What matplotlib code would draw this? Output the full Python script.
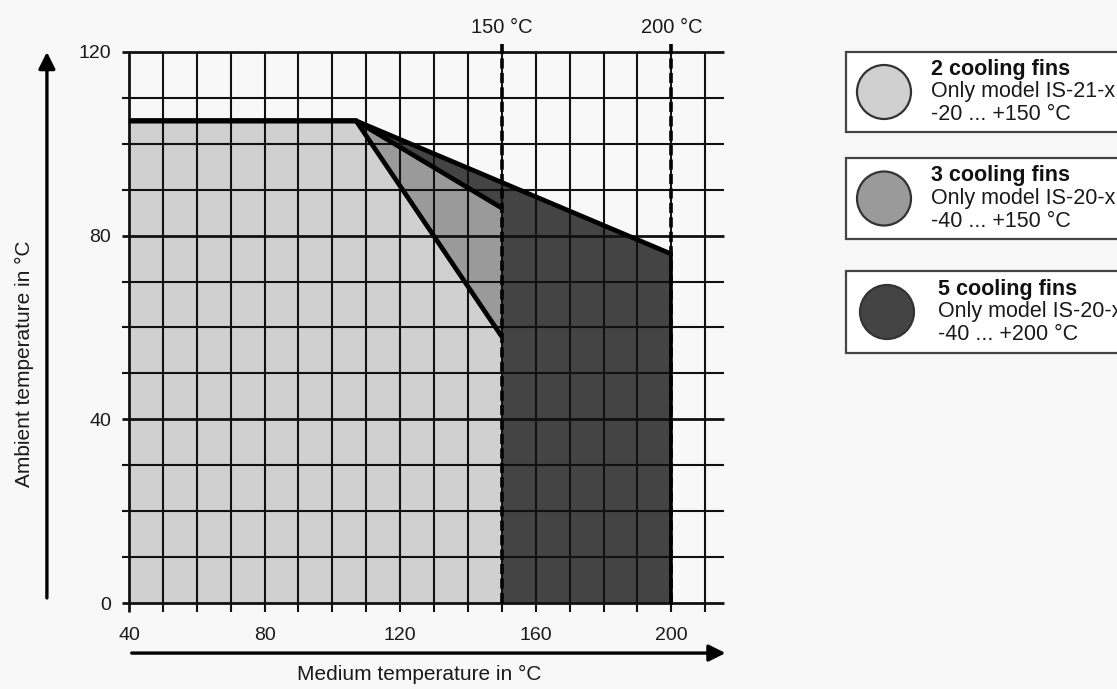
import numpy as np
import matplotlib.pyplot as plt
from matplotlib.patches import Rectangle, Circle

plt.rcParams['font.family'] = ['Liberation Sans', 'DejaVu Sans']

# derating curves: medium temperature (x) vs max ambient temperature (y)
fins2_x = [40, 107, 150]
fins2_y = [105, 105, 58]
fins3_x = [40, 107, 150]
fins3_y = [105, 105, 86]
fins5_x = [40, 107, 200]
fins5_y = [105, 105, 76]

limit_lines = [150, 200]
limit_labels = ["150 °C", "200 °C"]

x_ticks = [40, 80, 120, 160, 200]
y_ticks = [0, 40, 80, 120]
x_grid = np.arange(40, 211, 10)
y_grid = np.arange(0, 121, 10)

legend_titles = ["2 cooling fins", "3 cooling fins", "5 cooling fins"]
legend_models = ["Only model IS-21-x", "Only model IS-20-x", "Only model IS-20-x"]
legend_ranges = ["-20 ... +150 °C", "-40 ... +150 °C", "-40 ... +200 °C"]

c_light = '#d0d0d0'
c_mid = '#9a9a9a'
c_dark = '#444444'
bg = '#f8f8f8'

fig = plt.figure(figsize=(11.17, 6.89), dpi=100, facecolor=bg)
ax = fig.add_axes([0.1033, 0.1048, 0.5463, 0.8531])
ax.set_facecolor(bg)
ax.set_xlim(36, 216)
ax.set_ylim(-3, 125)
for s in ax.spines.values():
    s.set_visible(False)

# filled regions, darkest first
ax.fill_between(fins5_x, fins5_y, 0, color=c_dark, lw=0, zorder=1)
ax.fill_between(fins3_x, fins3_y, 0, color=c_mid, lw=0, zorder=1.1)
ax.fill_between(fins2_x, fins2_y, 0, color=c_light, lw=0, zorder=1.2)

# grid
for gx in x_grid:
    lw = 2.0 if gx == 40 else 1.5
    ax.plot([gx, gx], [-2, 120], color='#111111', lw=lw, zorder=2,
            solid_capstyle='butt', clip_on=False)
for gy in y_grid:
    lw = 2.0 if gy in (0, 40, 80, 120) else 1.5
    ax.plot([38, 215.5], [gy, gy], color='#111111', lw=lw, zorder=2,
            solid_capstyle='butt', clip_on=False)

# curve outlines
for xs, ys in [(fins5_x, fins5_y), (fins3_x, fins3_y), (fins2_x, fins2_y)]:
    ax.plot(xs, ys, color='black', lw=3.4, zorder=4, solid_joinstyle='miter',
            solid_capstyle='butt')
ax.plot([fins5_x[-1], fins5_x[-1]], [0, fins5_y[-1]], color='black', lw=2.6, zorder=3)

# limit lines
for lx, lab in zip(limit_lines, limit_labels):
    ax.plot([lx, lx], [0, 121.8], color='black', lw=2.6, ls=(0, (2.8, 1.2)),
            zorder=5, clip_on=False)
    ax.text(lx, 125.4, lab, ha='center', va='center', fontsize=14.5,
            color='#1a1a1a', clip_on=False)

ax.set_xticks(x_ticks)
ax.set_yticks(y_ticks)
ax.tick_params(length=0, labelsize=14, colors='#1a1a1a')
ax.tick_params(axis='x', pad=7)
ax.tick_params(axis='y', pad=3)

# axis arrows
ax.annotate('', xy=(15.8, 120.6), xytext=(15.8, 0.5), annotation_clip=False,
            arrowprops=dict(arrowstyle='-|>', lw=2.4, color='black', mutation_scale=25))
ax.annotate('', xy=(216.8, -10.9), xytext=(40, -10.9), annotation_clip=False,
            arrowprops=dict(arrowstyle='-|>', lw=2.4, color='black', mutation_scale=25))

ax.text(9.2, 52, "Ambient temperature in °C", rotation=90, ha='center', va='center',
        fontsize=15, color='#1a1a1a', clip_on=False)
ax.text(125.5, -15.5, "Medium temperature in °C", ha='center', va='center',
        fontsize=15, color='#1a1a1a', clip_on=False)

# legend boxes in pixel coordinates
lax = fig.add_axes([0, 0, 1, 1])
lax.set_xlim(0, 1117)
lax.set_ylim(689, 0)
lax.axis('off')
boxes = [(52, 132), (158, 239), (271, 353)]
colors = [c_light, c_mid, c_dark]
for i, (top, bot) in enumerate(boxes):
    lax.add_patch(Rectangle((846, top), 300, bot - top, facecolor='white',
                            edgecolor='#444444', lw=1.6, clip_on=False))
    cy = (top + bot) / 2
    cx = 884 if i < 2 else 887
    lax.add_patch(Circle((cx, cy), 27, facecolor=colors[i], edgecolor='#333333', lw=1.6))
    tx = 931 if i < 2 else 938
    lax.text(tx, cy - 23, legend_titles[i], fontsize=15.5, fontweight='bold',
             va='center', ha='left', color='#111111')
    lax.text(tx, cy, legend_models[i], fontsize=15.5, va='center', ha='left',
             color='#1a1a1a')
    lax.text(tx, cy + 23, legend_ranges[i], fontsize=15.5, va='center', ha='left',
             color='#1a1a1a')

fig.savefig('out.png', dpi=100, facecolor=bg)
